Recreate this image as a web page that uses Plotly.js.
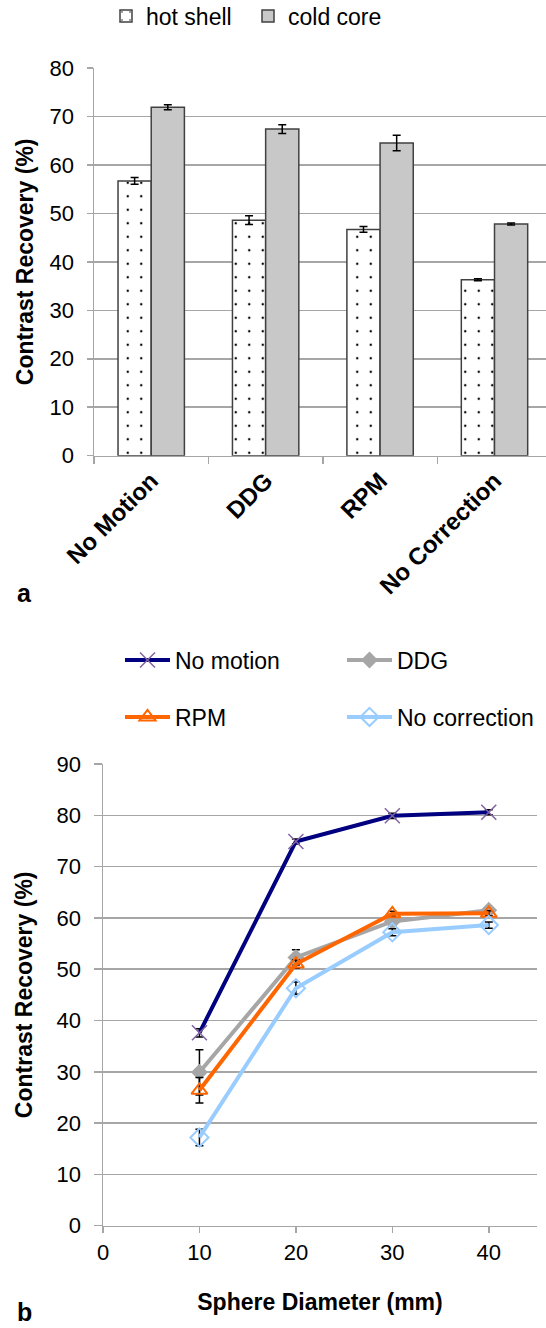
<!DOCTYPE html>
<html>
<head>
<meta charset="utf-8">
<script src="https://cdn.plot.ly/plotly-3.0.1.min.js"></script>
<style>html,body{margin:0;padding:0;background:#fff;}#chart{width:546px;height:1328px;}</style>
</head>
<body>
<div id="chart"></div>
<script>
// ---- Panel a: bar chart data ----
const methods = ["No Motion", "DDG", "RPM", "No Correction"];
const hotShell = [56.7, 48.6, 46.7, 36.3];
const hotShellErr = [0.7, 0.9, 0.6, 0.2];
const coldCore = [71.9, 67.4, 64.5, 47.8];
const coldCoreErr = [0.5, 0.9, 1.6, 0.2];

// ---- Panel b: line chart data ----
const diameters = [10, 20, 30, 40];
const noMotion = [37.6, 74.9, 79.9, 80.6];
const noMotionErr = [0.8, 0.5, 0.5, 0.5];
const ddg = [29.9, 52.3, 59.3, 61.5];
const ddgErr = [4.4, 1.5, 0.8, 0.5];
const rpm = [26.4, 51.0, 60.8, 60.9];
const rpmErr = [2.5, 0.8, 0.5, 0.5];
const noCorrection = [17.2, 46.3, 57.2, 58.6];
const noCorrectionErr = [1.6, 1.2, 0.7, 0.6];

const FONT = "Liberation Sans, Arial, sans-serif";
const GRID = "#a6a6a6";
const W = 546, H = 1328;
const px = v => v / W;
const py = v => 1 - v / H;

const errStyle = (arr) => ({type: "data", array: arr, visible: true, color: "#000", thickness: 1.5, width: 4});

const traces = [
  {
    type: "bar", name: "hot shell", x: methods, y: hotShell, xaxis: "x", yaxis: "y", legend: "legend",
    marker: {color: "#ffffff", line: {color: "#404040", width: 1.5},
             pattern: {shape: ".", fgcolor: "#000000", bgcolor: "#ffffff", size: 13.5, solidity: 0.025}},
    error_y: errStyle(hotShellErr)
  },
  {
    type: "bar", name: "cold core", x: methods, y: coldCore, xaxis: "x", yaxis: "y", legend: "legend2",
    marker: {color: "#c8c8c8", line: {color: "#404040", width: 1.5}},
    error_y: errStyle(coldCoreErr)
  },
  {
    type: "scatter", mode: "lines+markers", name: "No motion", x: diameters, y: noMotion, xaxis: "x2", yaxis: "y2", legend: "legend3",
    line: {color: "#000080", width: 4},
    marker: {symbol: "x-thin", size: 15, color: "#8064a2", line: {color: "#8064a2", width: 1.5}},
    error_y: errStyle(noMotionErr)
  },
  {
    type: "scatter", mode: "lines+markers", name: "DDG", x: diameters, y: ddg, xaxis: "x2", yaxis: "y2", legend: "legend4",
    line: {color: "#a6a6a6", width: 4},
    marker: {symbol: "diamond", size: 13, color: "#a6a6a6"},
    error_y: errStyle(ddgErr)
  },
  {
    type: "scatter", mode: "lines+markers", name: "RPM", x: diameters, y: rpm, xaxis: "x2", yaxis: "y2", legend: "legend5",
    line: {color: "#ff6600", width: 4},
    marker: {symbol: "triangle-up-open", size: 14, color: "#ff6600", line: {color: "#ff6600", width: 2}},
    error_y: errStyle(rpmErr)
  },
  {
    type: "scatter", mode: "lines+markers", name: "No correction", x: diameters, y: noCorrection, xaxis: "x2", yaxis: "y2", legend: "legend6",
    line: {color: "#99ccff", width: 4},
    marker: {symbol: "diamond-open", size: 14, color: "#99ccff", line: {color: "#99ccff", width: 2}},
    error_y: errStyle(noCorrectionErr)
  }
];

const axisCommon = {
  showline: true, linecolor: GRID, linewidth: 1.5,
  ticks: "outside", tickcolor: GRID, tickwidth: 1.5,
  tickfont: {family: FONT, size: 22, color: "#000"},
  zeroline: false
};

const legendAt = (xp, yp, iw) => ({
  orientation: "h", x: px(xp), y: py(yp), xanchor: "left", yanchor: "middle",
  font: {family: FONT, size: 23, color: "#000"}, bgcolor: "rgba(0,0,0,0)", itemwidth: iw
});

const layout = {
  width: W, height: H,
  margin: {l: 0, r: 0, t: 0, b: 0, pad: 0, autoexpand: false},
  paper_bgcolor: "#fff", plot_bgcolor: "#fff",
  font: {family: FONT, color: "#000"},
  showlegend: true,
  bargap: 0.42, bargroupgap: 0,
  xaxis: Object.assign({}, axisCommon, {
    domain: [px(94), 1], anchor: "y", type: "category", range: [-0.5, 3.45],
    tickson: "boundaries", ticklen: 7, tickangle: -45, showgrid: false, automargin: false,
    tickfont: {family: FONT, size: 24, color: "#000", weight: "bold"}
  }),
  yaxis: Object.assign({}, axisCommon, {
    domain: [py(455.7), py(68)], anchor: "x", range: [0, 80], dtick: 10, automargin: false,
    ticklen: 6, showgrid: true, gridcolor: GRID, gridwidth: 1.5, ticklabelstandoff: 8,
    title: {text: "Contrast Recovery (%)", font: {family: FONT, size: 23, weight: "bold"}, standoff: 9}
  }),
  xaxis2: Object.assign({}, axisCommon, {
    domain: [px(103), px(537)], anchor: "y2", range: [0, 45], dtick: 10, tick0: 0, automargin: false,
    ticklen: 6, showgrid: false,
    title: {text: "Sphere Diameter (mm)", font: {family: FONT, size: 23, weight: "bold"}, standoff: 30}
  }),
  yaxis2: Object.assign({}, axisCommon, {
    domain: [py(1225.7), py(764)], anchor: "x2", range: [0, 90], dtick: 10, automargin: false,
    ticklen: 8, showgrid: true, gridcolor: GRID, gridwidth: 1.5, ticklabelstandoff: 8,
    title: {text: "Contrast Recovery (%)", font: {family: FONT, size: 23, weight: "bold"}, standoff: 17}
  }),
  legend: legendAt(106, 16, 30),
  legend2: legendAt(248, 16, 30),
  legend3: legendAt(120, 660, 45),
  legend4: legendAt(342, 660, 45),
  legend5: legendAt(120, 717, 45),
  legend6: legendAt(342, 717, 45),
  annotations: [
    {text: "a", xref: "paper", yref: "paper", x: px(24), y: py(593), xanchor: "center", yanchor: "middle",
     showarrow: false, font: {family: FONT, size: 25, weight: "bold", color: "#000"}},
    {text: "b", xref: "paper", yref: "paper", x: px(24), y: py(1312), xanchor: "center", yanchor: "middle",
     showarrow: false, font: {family: FONT, size: 25, weight: "bold", color: "#000"}}
  ]
};

Plotly.newPlot("chart", traces, layout, {displayModeBar: false, staticPlot: true});
</script>
</body>
</html>
